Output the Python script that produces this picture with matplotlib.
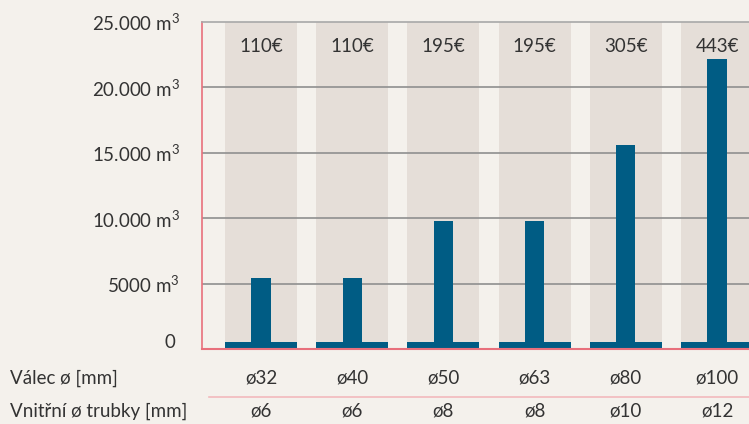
import numpy as np
import matplotlib
matplotlib.use('Agg')
import matplotlib.pyplot as plt

plt.rcParams['font.family'] = ['Lato', 'DejaVu Sans']
plt.rcParams['mathtext.fontset'] = 'custom'
plt.rcParams['mathtext.rm'] = 'Lato'
plt.rcParams['mathtext.it'] = 'Lato'
plt.rcParams['mathtext.default'] = 'rm'

# Data
cylinders = ['ø32', 'ø40', 'ø50', 'ø63', 'ø80', 'ø100']
tubes = ['ø6', 'ø6', 'ø8', 'ø8', 'ø10', 'ø12']
prices = ['110€', '110€', '195€', '195€', '305€', '443€']
volumes = [5430, 5430, 9800, 9800, 15600, 22200]
base = 500
yticks = [0, 5000, 10000, 15000, 20000, 25000]
ytick_labels = ['', '5000 m$^3$', '10.000 m$^3$', '15.000 m$^3$', '20.000 m$^3$', '25.000 m$^3$']

BG = '#f4f1ec'
SHADE = '#e5ded8'
BLUE = '#005c84'
RED = '#e8707c'
TXT = '#333333'
FS = 13.5

fig = plt.figure(figsize=(7.49, 4.24), dpi=100, facecolor=BG)
# axes: left 202px, top 22px, bottom 349px
ax = fig.add_axes([202/749, (424-349)/424, 1 - 202/749, (349-22)/424])
ax.set_facecolor(BG)

x = np.arange(len(cylinders))
ax.bar(x, [25000]*len(x), width=0.79, color=SHADE, zorder=0)
for yv in yticks[1:-1]:
    ax.axhline(yv, color='#8f8f8f', lw=1.2, zorder=1)
ax.bar(x, volumes, width=0.21, color=BLUE, zorder=2)
ax.bar(x, [base]*len(x), width=0.79, color=BLUE, zorder=2)

for xi, p in zip(x, prices):
    ax.text(xi, 23150, p, ha='center', va='center', fontsize=FS, color=TXT)

ax.set_xlim(-0.647, 5.35)
ax.set_ylim(0, 25000)
ax.set_xticks([])
ax.set_yticks(yticks)
ax.set_yticklabels(ytick_labels, fontsize=FS, color=TXT)
ax.tick_params(axis='y', length=0, pad=16)
# the zero label sits a little above the baseline
ax.annotate('0', xy=(0, 0), xycoords=('axes fraction', 'data'), xytext=(-19, 5),
            textcoords='offset points', ha='right', va='center', fontsize=FS, color=TXT)

ax.spines['right'].set_visible(False)
ax.spines['top'].set_color('#a8a8a8')
ax.spines['top'].set_linewidth(1.2)
ax.spines['left'].set_color(RED)
ax.spines['bottom'].set_color(RED)
ax.spines['left'].set_linewidth(1.2)
ax.spines['bottom'].set_linewidth(1.5)

# table below
def fy(py):
    return 1 - py/424

fig.text(10/749, fy(378), 'Válec ø [mm]', ha='left', va='center', fontsize=FS, color=TXT)
fig.text(10/749, fy(411), 'Vnitřní ø trubky [mm]', ha='left', va='center', fontsize=FS, color=TXT)
for xi, c, t in zip(x, cylinders, tubes):
    px = ax.transData.transform((xi, 0))[0] / fig.dpi / 7.49
    fig.text(px, fy(378), c, ha='center', va='center', fontsize=FS, color=TXT)
    fig.text(px, fy(411), t, ha='center', va='center', fontsize=FS, color=TXT)

fig.add_artist(plt.Line2D([209/749, 1], [fy(397), fy(397)], color='#f2b9bd', lw=1.2))

fig.savefig('out.png', dpi=100, facecolor=BG)
